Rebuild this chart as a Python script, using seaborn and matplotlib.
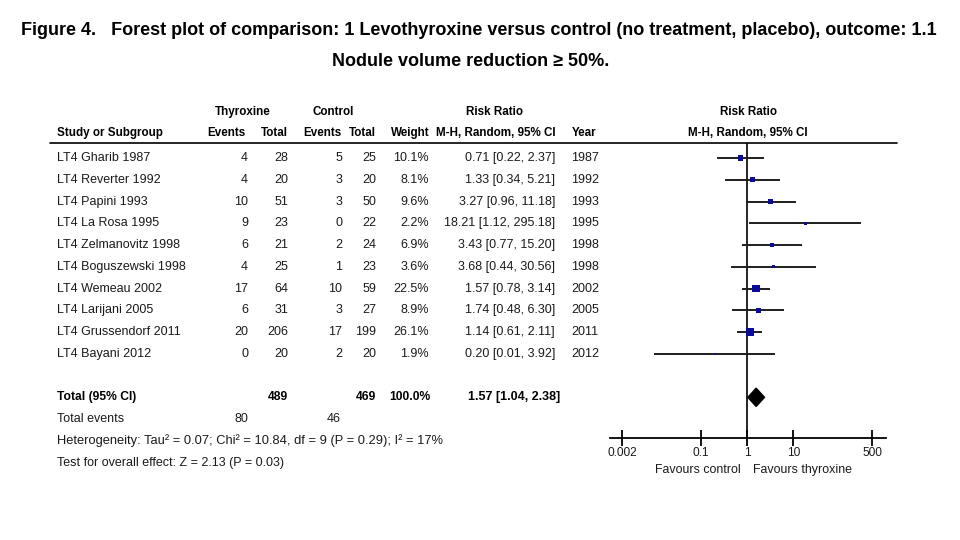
import pandas as pd
import numpy as np
import seaborn as sns
import matplotlib.pyplot as plt
from matplotlib import transforms
from matplotlib.lines import Line2D

studies = ["LT4 Gharib 1987", "LT4 Reverter 1992", "LT4 Papini 1993", "LT4 La Rosa 1995",
           "LT4 Zelmanovitz 1998", "LT4 Boguszewski 1998", "LT4 Wemeau 2002",
           "LT4 Larijani 2005", "LT4 Grussendorf 2011", "LT4 Bayani 2012"]
years = [1987, 1992, 1993, 1995, 1998, 1998, 2002, 2005, 2011, 2012]
thy_events = [4, 4, 10, 9, 6, 4, 17, 6, 20, 0]
thy_total = [28, 20, 51, 23, 21, 25, 64, 31, 206, 20]
ctl_events = [5, 3, 3, 0, 2, 1, 10, 3, 17, 2]
ctl_total = [25, 20, 50, 22, 24, 23, 59, 27, 199, 20]
weight = [10.1, 8.1, 9.6, 2.2, 6.9, 3.6, 22.5, 8.9, 26.1, 1.9]
rr = [0.71, 1.33, 3.27, 18.21, 3.43, 3.68, 1.57, 1.74, 1.14, 0.20]
rr_lo = [0.22, 0.34, 0.96, 1.12, 0.77, 0.44, 0.78, 0.48, 0.61, 0.01]
rr_hi = [2.37, 5.21, 11.18, 295.18, 15.20, 30.56, 3.14, 6.30, 2.11, 3.92]

total_rr, total_lo, total_hi = 1.57, 1.04, 2.38
total_thy, total_ctl = 489, 469
events_thy, events_ctl = 80, 46

tick_vals = [0.002, 0.1, 1, 10, 500]
tick_labels = ["0.002", "0.1", "1", "10", "500"]

df = pd.DataFrame({"study": studies, "rr": rr, "lo": rr_lo, "hi": rr_hi,
                   "weight": weight, "row": np.arange(len(studies))})

sns.set_theme(style="white")
plt.rcParams["font.family"] = ["Liberation Sans Narrow", "DejaVu Sans Condensed", "Liberation Sans"]

W, H = 960, 540
fig = plt.figure(figsize=(9.6, 5.4), dpi=100)
fig.patch.set_facecolor("white")

# forest axes: top = header rule, bottom = x axis line
ax = fig.add_axes([610 / W, 1 - 438 / H, 276 / W, 295 / H])
ax.set_facecolor("white")
ax.set_xscale("log")

ax.hlines(df["row"], df["lo"], df["hi"], color="#1e1e1e", lw=1.4, zorder=2)
sns.scatterplot(data=df, x="rr", y="row", size="weight", sizes=(3, 36),
                size_norm=(1.9, 26.1), marker="s", color="#0a0a9c",
                edgecolor="none", legend=False, ax=ax, zorder=3)

trow = len(studies) + 1
h = 0.42
ax.fill([total_lo, total_rr, total_hi, total_rr], [trow, trow - h, trow, trow + h],
        color="black", zorder=3)
ax.axvline(1, color="black", lw=1.2, zorder=1)

ax.set_xlim(10 ** -2.96, 10 ** 3.0)
ax.set_ylim(12.87, -0.69)
ax.set_xticks(tick_vals)
ax.set_xticklabels(tick_labels)
ax.xaxis.set_minor_locator(plt.NullLocator())
ax.set_yticks([])
ax.set_xlabel("")
ax.set_ylabel("")
for s in ["top", "left", "right"]:
    ax.spines[s].set_visible(False)
ax.spines["bottom"].set_color("black")
ax.spines["bottom"].set_linewidth(1.3)
ax.tick_params(axis="x", direction="inout", length=11, width=1.3, color="black",
               labelsize=8.6, pad=1, labelcolor="#1a1a1a", bottom=True)

tr = transforms.blended_transform_factory(fig.transFigure, ax.transData)
col = "#1a1a1a"
fs = 9.0
hfs = 8.4


def txt(xp, row, s, ha="right", bold=False, size=None):
    if size is None:
        size = hfs if bold else fs
    fig.text(xp / W, row, s, transform=tr, ha=ha, va="center", fontsize=size,
             fontweight="bold" if bold else "normal", color="black" if bold else col)


# headers
hr1, hr2 = -2.12, -1.15
txt(243, hr1, "Thyroxine", ha="center", bold=True)
txt(333, hr1, "Control", ha="center", bold=True)
txt(495, hr1, "Risk Ratio", ha="center", bold=True)
txt(748, hr1, "Risk Ratio", ha="center", bold=True)
txt(57, hr2, "Study or Subgroup", ha="left", bold=True)
txt(246, hr2, "Events", bold=True)
txt(288, hr2, "Total", bold=True)
txt(341, hr2, "Events", bold=True)
txt(376, hr2, "Total", bold=True)
txt(430, hr2, "Weight", bold=True)
txt(556, hr2, "M-H, Random, 95% CI", bold=True)
txt(572, hr2, "Year", ha="left", bold=True)
txt(748, hr2, "M-H, Random, 95% CI", ha="center", bold=True)

fig.add_artist(Line2D([50 / W, 897 / W], [1 - 143 / H] * 2, transform=fig.transFigure,
                      color="black", lw=1.2))

for i in range(len(studies)):
    txt(57, i, studies[i], ha="left")
    txt(248, i, str(thy_events[i]))
    txt(288, i, str(thy_total[i]))
    txt(342, i, str(ctl_events[i]))
    txt(376, i, str(ctl_total[i]))
    txt(429, i, f"{weight[i]:.1f}%")
    txt(555, i, f"{rr[i]:.2f} [{rr_lo[i]:.2f}, {rr_hi[i]:.2f}]")
    txt(571, i, str(years[i]), ha="left")

txt(57, trow, "Total (95% CI)", ha="left", bold=True, size=8.7)
txt(288, trow, str(total_thy), bold=True, size=8.7)
txt(376, trow, str(total_ctl), bold=True, size=8.7)
txt(430, trow, "100.0%", bold=True, size=8.7)
txt(560, trow, f"{total_rr:.2f} [{total_lo:.2f}, {total_hi:.2f}]", bold=True, size=9.0)
txt(57, trow + 1, "Total events", ha="left")
txt(248, trow + 1, str(events_thy))
txt(341, trow + 1, str(events_ctl))
txt(57, trow + 2, "Heterogeneity: Tau\u00b2 = 0.07; Chi\u00b2 = 10.84, df = 9 (P = 0.29); I\u00b2 = 17%",
    ha="left", size=9.3)
txt(57, trow + 3, "Test for overall effect: Z = 2.13 (P = 0.03)", ha="left")

fig.text(741 / W, 1 - 470 / H, "Favours control", ha="right", va="center", fontsize=8.9, color=col)
fig.text(753 / W, 1 - 470 / H, "Favours thyroxine", ha="left", va="center", fontsize=8.9, color=col)

fig.text(479 / W, 1 - 31 / H,
         "Figure 4.   Forest plot of comparison: 1 Levothyroxine versus control (no treatment, placebo), outcome: 1.1",
         ha="center", va="center", fontsize=13.0, fontweight="bold", color="black")
fig.text(471 / W, 1 - 61 / H, "Nodule volume reduction \u2265 50%.",
         ha="center", va="center", fontsize=13.0, fontweight="bold", color="black")

fig.savefig("out.png", dpi=100, facecolor="white")
